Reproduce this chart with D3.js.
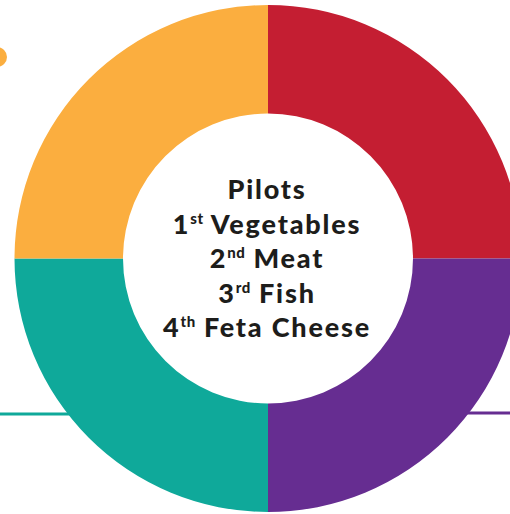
<!DOCTYPE html>
<html><head><meta charset="utf-8">
<script src="https://cdn.jsdelivr.net/npm/d3@7"></script>
<style>html,body{margin:0;padding:0;background:#fff;overflow:hidden}</style>
</head><body>
<svg id="c" width="510" height="514"></svg>
<script>
const categories = ["Meat", "Fish", "Feta Cheese", "Vegetables"];
const values = [25, 25, 25, 25];
const colors = ["#C41E32", "#662D91", "#0FA99A", "#FBAE3F"];
const title = "Pilots";
const ranks = [["1", "st", "Vegetables"], ["2", "nd", "Meat"], ["3", "rd", "Fish"], ["4", "th", "Feta Cheese"]];

const svg = d3.select("#c");
const cx = 268, cy = 258.5, rOuter = 253.5, rInner = 145;

svg.append("line").attr("x1", 0).attr("x2", 80).attr("y1", 414).attr("y2", 414)
  .attr("stroke", colors[2]).attr("stroke-width", 3);
svg.append("line").attr("x1", 460).attr("x2", 510).attr("y1", 413).attr("y2", 413)
  .attr("stroke", colors[1]).attr("stroke-width", 3);
svg.append("circle").attr("cx", -3).attr("cy", 57).attr("r", 10).attr("fill", colors[3]);

const pie = d3.pie().sort(null).value(d => d)(values);
const arc = d3.arc().innerRadius(rInner).outerRadius(rOuter);
const g = svg.append("g").attr("transform", `translate(${cx},${cy})`);
g.selectAll("path").data(pie).join("path")
  .attr("d", arc).attr("fill", (d, i) => colors[i]);

function styled(sel) {
  return sel.attr("text-anchor", "middle")
    .attr("font-family", "Lato, 'Open Sans', sans-serif").attr("font-weight", 900)
    .attr("font-size", 27).attr("letter-spacing", 1.8).attr("fill", "#1d1d1b");
}
styled(svg.append("text")).attr("x", 267).attr("y", 199).text(title);
ranks.forEach((r, i) => {
  const y = 234 + i * 34.4;
  const line = styled(svg.append("text")).attr("x", 267).attr("y", y);
  line.append("tspan").text(r[0]);
  line.append("tspan").attr("font-size", 15).attr("letter-spacing", 0.5).attr("dy", -10).text(r[1]);
  line.append("tspan").attr("dy", 10).text("\u00A0" + r[2]);
});
</script>
</body></html>
